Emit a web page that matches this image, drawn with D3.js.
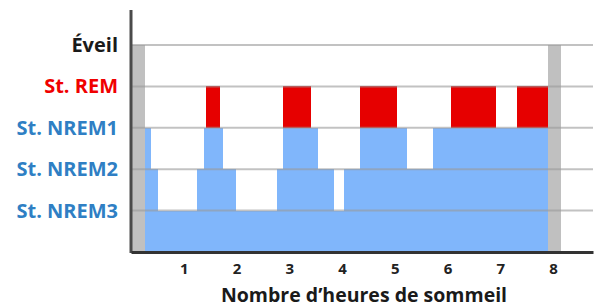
<!DOCTYPE html>
<html>
<head>
<meta charset="utf-8">
<script src="https://cdn.jsdelivr.net/npm/d3@7"></script>
<style>
  body { margin: 0; background: #fff; }
  svg { display: block; font-family: "Open Sans", "Noto Sans", sans-serif; }
</style>
</head>
<body>
<svg id="chart" width="594" height="307"></svg>
<script>
// stages, top to bottom
const stageNames = ["Éveil", "St. REM", "St. NREM1", "St. NREM2", "St. NREM3"];
const stageLevels = [5, 4, 3, 2, 1];
const stageColors = ["#1a1a1a", "#f00000", "#2f7fc4", "#2f7fc4", "#2f7fc4"];

// hypnogram segments (hours) and the stage held during each
const segStart = [0, 0.27, 0.37, 0.52, 1.25, 1.38, 1.42, 1.69, 1.74, 2.0, 2.76, 2.89, 3.41, 3.55, 3.84, 4.04, 4.34, 5.05, 5.23, 5.72, 6.06, 6.92, 7.32, 7.9];
const segEnd   = [0.27, 0.37, 0.52, 1.25, 1.38, 1.42, 1.69, 1.74, 2.0, 2.76, 2.89, 3.41, 3.55, 3.84, 4.04, 4.34, 5.05, 5.23, 5.72, 6.06, 6.92, 7.32, 7.9, 8.15];
const segStage = ["Éveil", "St. NREM1", "St. NREM2", "St. NREM3", "St. NREM2", "St. NREM1", "St. REM", "St. NREM1", "St. NREM2", "St. NREM3", "St. NREM2", "St. REM", "St. NREM1", "St. NREM2", "St. NREM3", "St. NREM2", "St. REM", "St. NREM1", "St. NREM2", "St. NREM1", "St. REM", "St. NREM1", "St. REM", "Éveil"];

const hourTicks = [1, 2, 3, 4, 5, 6, 7, 8];

const svg = d3.select("#chart");
const x = d3.scaleLinear().domain([0, 8.76]).range([131, 593]);
const y = d3.scaleLinear().domain([0, 5]).range([252, 45]);
const levelOf = d3.scaleOrdinal().domain(stageNames).range(stageLevels);

const segs = segStart.map((s, i) => ({ s, e: segEnd[i], stage: segStage[i] }));

// blue depth area (REM sits on top of NREM1)
svg.append("g")
  .selectAll("rect")
  .data(segs.filter(d => d.stage !== "Éveil"))
  .join("rect")
    .attr("x", d => x(d.s))
    .attr("width", d => x(d.e) - x(d.s))
    .attr("y", d => y(Math.min(levelOf(d.stage), 3)))
    .attr("height", d => y(0) - y(Math.min(levelOf(d.stage), 3)))
    .attr("fill", "#80b6fb")
    .attr("shape-rendering", "crispEdges");

svg.append("g")
  .selectAll("rect")
  .data(segs.filter(d => d.stage === "St. REM"))
  .join("rect")
    .attr("x", d => x(d.s))
    .attr("width", d => x(d.e) - x(d.s))
    .attr("y", y(4))
    .attr("height", y(3) - y(4))
    .attr("fill", "#e60000")
    .attr("shape-rendering", "crispEdges");

svg.append("g")
  .selectAll("rect")
  .data(segs.filter(d => d.stage === "Éveil"))
  .join("rect")
    .attr("x", d => x(d.s))
    .attr("width", d => x(d.e) - x(d.s))
    .attr("y", y(5))
    .attr("height", y(0) - y(5))
    .attr("fill", "#c0c0c0")
    .attr("shape-rendering", "crispEdges");

// grid lines at each stage
svg.append("g")
  .selectAll("line")
  .data(stageLevels)
  .join("line")
    .attr("x1", x(0)).attr("x2", x(8.76))
    .attr("y1", d => y(d)).attr("y2", d => y(d))
    .attr("stroke", "#999")
    .attr("stroke-opacity", 0.6)
    .attr("stroke-width", 2);

// stage labels
svg.append("g")
  .selectAll("text")
  .data(stageNames)
  .join("text")
    .attr("x", 118)
    .attr("y", d => y(levelOf(d)))
    .attr("dy", "0.35em")
    .attr("text-anchor", "end")
    .attr("font-size", 20)
    .attr("font-weight", "bold")
    .attr("fill", (d, i) => stageColors[i])
    .text(d => d);

// axes
svg.append("line")
  .attr("x1", 131).attr("x2", 131)
  .attr("y1", 10).attr("y2", y(0) + 1)
  .attr("stroke", "#4a4a4a").attr("stroke-width", 3);

const xAxis = svg.append("g")
  .attr("transform", `translate(0,${y(0)})`)
  .call(d3.axisBottom(x).tickValues(hourTicks).tickSize(0).tickPadding(11).tickFormat(d3.format("d")));
xAxis.select(".domain").attr("stroke", "#333").attr("stroke-width", 3);
xAxis.selectAll("text")
  .attr("font-size", 15)
  .attr("font-weight", "bold")
  .attr("fill", "#222")
  .attr("font-family", "'Open Sans', sans-serif");

svg.append("text")
  .attr("x", 364)
  .attr("y", 302)
  .attr("text-anchor", "middle")
  .attr("font-size", 19.5)
  .attr("font-weight", "bold")
  .attr("fill", "#1a1a1a")
  .text("Nombre d’heures de sommeil");
</script>
</body>
</html>
